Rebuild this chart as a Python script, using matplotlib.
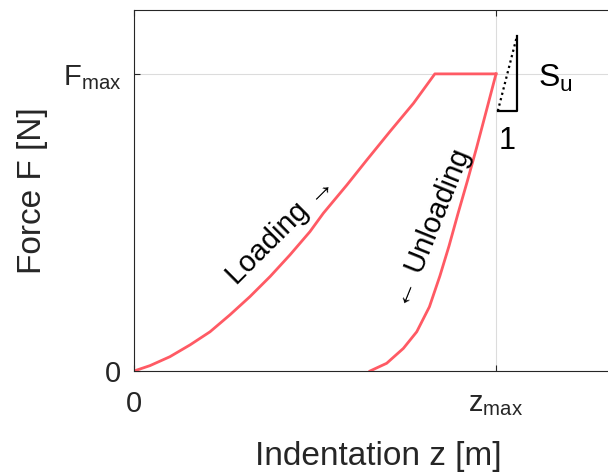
import matplotlib
matplotlib.use("Agg")
import matplotlib.pyplot as plt

plt.rcParams['font.family'] = ['Liberation Sans', 'DejaVu Sans']
plt.rcParams['mathtext.fontset'] = 'custom'
plt.rcParams['mathtext.rm'] = 'Liberation Sans'

# curve values (z in units of z_max, F in units of F_max)
load_z = [0.0, 0.044, 0.099, 0.155, 0.210, 0.265, 0.320, 0.376, 0.431, 0.486,
          0.523, 0.588, 0.643, 0.707, 0.772, 0.831, 1.0]
load_f = [0.0, 0.018, 0.048, 0.088, 0.132, 0.189, 0.250, 0.318, 0.391, 0.469,
          0.531, 0.626, 0.710, 0.806, 0.901, 1.0, 1.0]
unload_z = [1.0, 0.974, 0.946, 0.921, 0.895, 0.870, 0.845, 0.816, 0.781, 0.744,
            0.698, 0.652]
unload_f = [1.0, 0.879, 0.750, 0.640, 0.530, 0.420, 0.320, 0.216, 0.132, 0.076,
            0.026, 0.0]

xtick_vals = [0, 1]
xtick_labels = ['0', r'$\mathregular{z_{max}}$']
ytick_vals = [0, 1]
ytick_labels = ['0', r'$\mathregular{F_{max}}$']

curve_color = '#ff5a64'
ink = '#262626'

fig = plt.figure(figsize=(6.08, 4.74), dpi=100)
ax = fig.add_axes([134 / 608, 103 / 474, 488 / 608, 361 / 474])

ax.plot(load_z, load_f, color=curve_color, lw=2.0, solid_joinstyle='round')
ax.plot(unload_z, unload_f, color=curve_color, lw=2.0, solid_joinstyle='round')

ax.set_xlim(0, 1.348)
ax.set_ylim(0, 1.215)

ax.set_xticks(xtick_vals)
ax.set_xticklabels(xtick_labels)
ax.set_yticks(ytick_vals)
ax.set_yticklabels(ytick_labels)
ax.tick_params(direction='in', length=4, width=0.8, colors=ink, labelsize=21,
               top=True, right=True)
ax.tick_params(axis='x', pad=14)
ax.tick_params(axis='y', pad=9)
ax.grid(True, color='#dcdcdc', lw=0.8)
ax.set_axisbelow(True)
for s in ax.spines.values():
    s.set_color(ink)
    s.set_linewidth(0.8)

ax.set_xlabel('Indentation z [m]', fontsize=24, color=ink, labelpad=16)
ax.set_ylabel('Force F [N]', fontsize=24, color=ink, labelpad=11)

# curve annotations
ax.text(0.405, 0.475, 'Loading \u2192', rotation=45, fontsize=21, color='black',
        ha='center', va='center', rotation_mode='anchor')
ax.text(0.822, 0.48, '\u2190 Unloading', rotation=68, fontsize=21, color='black',
        ha='center', va='center', rotation_mode='anchor')

# stiffness triangle
tri_left, tri_right = 1.005, 1.058
tri_bottom, tri_top = 0.875, 1.128
ax.plot([tri_left, tri_right, tri_right], [tri_bottom, tri_bottom, tri_top],
        color='black', lw=1.6, clip_on=False)
ax.plot([tri_left, tri_right], [tri_bottom, tri_top], color='black', lw=1.6,
        ls=(0, (1, 1.5)), clip_on=False)
ax.text(1.165, 0.985, r'$\mathregular{S_u}$', fontsize=23, ha='center', va='center')
ax.text(1.031, 0.775, '1', fontsize=22, ha='center', va='center')

fig.savefig('out.png', dpi=100)
